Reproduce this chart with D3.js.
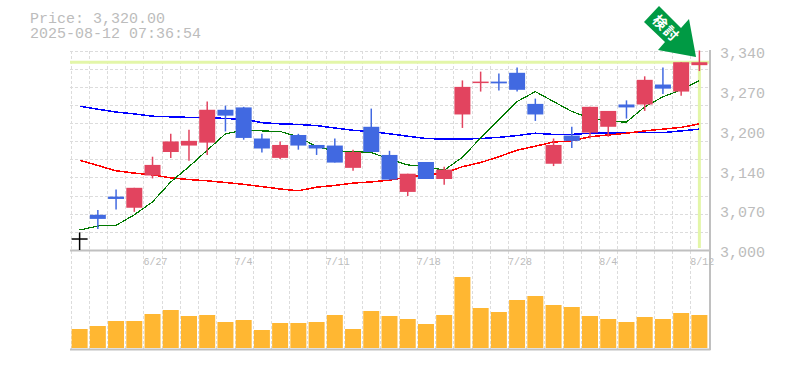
<!DOCTYPE html>
<html>
<head>
<meta charset="utf-8">
<script src="https://cdn.jsdelivr.net/npm/d3@7"></script>
<style>
body { margin: 0; background: #fff; }
svg { display: block; }
text { font-family: "Liberation Mono", monospace; fill: #bcbcbc; }
</style>
</head>
<body>
<div id="chart"></div>
<script>
const dates = ["6/23","6/24","6/25","6/26","6/27","6/30","7/1","7/2","7/3","7/4","7/7","7/8","7/9","7/10","7/11","7/14","7/15","7/16","7/17","7/18","7/22","7/23","7/24","7/25","7/28","7/29","7/30","7/31","8/1","8/4","8/5","8/6","8/7","8/8","8/12"];
const dateLabels = ["6/27","7/4","7/11","7/18","7/28","8/4","8/12"];
const opens = [3020,3060,3091,3072,3127,3167,3178,3183,3239,3243,3190,3157,3196,3179,3178,3140,3210,3162,3099,3150,3121,3231,3285,3287,3302,3249,3147,3195,3200,3210,3248,3248,3282,3270,3315];
const closes = [3020,3053,3087,3106,3145,3185,3186,3239,3229,3191,3173,3179,3178,3173,3149,3167,3167,3120,3130,3121,3137,3278,3287,3284,3273,3231,3179,3186,3244,3237,3243,3290,3275,3320,3320];
const highs = [3030,3068,3103,3106,3159,3198,3205,3253,3246,3244,3198,3185,3198,3179,3190,3171,3241,3169,3130,3150,3142,3289,3304,3301,3311,3258,3190,3210,3244,3237,3255,3296,3311,3320,3340];
const lows = [3000,3036,3069,3065,3122,3157,3152,3162,3202,3188,3166,3155,3171,3162,3149,3135,3167,3120,3092,3121,3111,3208,3270,3272,3270,3220,3143,3174,3190,3193,3224,3237,3266,3263,3305];
const maShort = [3034,3041,3042,3060,3082,3116,3142,3170,3198,3204,3203,3202,3193,3176,3169,3168,3166,3155,3145,3142,3136,3158,3191,3222,3253,3270,3253,3236,3225,3219,3218,3244,3261,3273,3289];
const maMid = [3153,3144,3135,3131,3128,3123,3120,3118,3115,3112,3108,3104,3101,3107,3110,3114,3116,3119,3124,3128,3131,3142,3149,3159,3170,3177,3184,3186,3193,3196,3199,3203,3206,3209,3215];
const maLong = [3245,3240,3235,3232,3228,3227,3226,3226,3224,3223,3217,3215,3214,3212,3208,3204,3202,3198,3194,3190,3189,3189,3190,3192,3195,3199,3197,3197,3199,3199,3200,3200,3200,3203,3206];
const volumes = [1900,2200,2700,2700,3400,3800,3200,3300,2600,2800,1800,2500,2500,2600,3300,1900,3700,3200,2900,2400,3300,7100,4000,3600,4800,5200,4300,4100,3200,2900,2600,3100,2900,3500,3300];
const priceTicks = [3000,3068,3136,3204,3272,3340];
const lastPrice = 3320;
const titleLines = ["Price: 3,320.00","2025-08-12 07:36:54"];
const arrowLabel = "検討";

const width = 785;
const height = 370;

const svg = d3.select("#chart")
    .append("svg")
    .attr("width", width)
    .attr("height", height);

const x = d3.scaleBand()
    .domain(dates)
    .range([70.5, 708.5]);
const y = d3.scaleLinear()
    .domain([3000, 3340])
    .range([250, 50.5]);
const yVol = d3.scaleLinear()
    .domain([0, 8000])
    .range([348, 268]);
const mid = function (d) {
    return x(d) + x.bandwidth() / 2;
};

// grid
const gridRows = d3.range(12).map(function (k) {
    return 3000 + k * 340 / 11;
});
svg.append("g").selectAll("line")
    .data(gridRows)
    .enter()
    .append("line")
    .attr("x1", 70)
    .attr("x2", 710)
    .attr("y1", function (d) { return Math.round(y(d)) + 0.5; })
    .attr("y2", function (d) { return Math.round(y(d)) + 0.5; })
    .attr("stroke", "#dcdcdc")
    .attr("stroke-dasharray", "3,2");
svg.append("g").selectAll("line")
    .data(dates)
    .enter()
    .append("line")
    .attr("x1", function (d) { return Math.round(x(d)) + 0.5; })
    .attr("x2", function (d) { return Math.round(x(d)) + 0.5; })
    .attr("y1", 51)
    .attr("y2", 350)
    .attr("stroke", "#dcdcdc")
    .attr("stroke-dasharray", "3,2");

// last price highlight
svg.append("line")
    .attr("x1", 70).attr("x2", 710)
    .attr("y1", y(lastPrice)).attr("y2", y(lastPrice))
    .attr("stroke", "#e3f6a8")
    .attr("stroke-width", 3);
svg.append("line")
    .attr("x1", mid(dates[34])).attr("x2", mid(dates[34]))
    .attr("y1", y(lastPrice)).attr("y2", 248)
    .attr("stroke", "#e3f6a8")
    .attr("stroke-width", 3);

// frame
svg.append("path")
    .attr("d", "M70,250.5H710M70,349.5H710.5M710,50V350")
    .attr("fill", "none")
    .attr("stroke", "#c0c0c0")
    .attr("stroke-width", 2);

// moving averages
const line = d3.line()
    .x(function (d, i) { return mid(dates[i]); })
    .y(function (d) { return y(d); });
[[maLong, "#0000ff", 1.5], [maMid, "#ff0000", 1.5], [maShort, "#007a00", 1.2]].forEach(function (s) {
    svg.append("path")
        .attr("d", line(s[0]))
        .attr("fill", "none")
        .attr("stroke", s[1])
        .attr("stroke-width", s[2])
        .attr("shape-rendering", "crispEdges");
});

// candles
const candleColor = function (i) {
    if (i === 0) {
        return "#000";
    }
    return closes[i] >= opens[i] ? "#e2445f" : "#4169e1";
};
const candles = svg.append("g").selectAll("g")
    .data(dates)
    .enter()
    .append("g");
candles.append("line")
    .attr("x1", function (d) { return mid(d); })
    .attr("x2", function (d) { return mid(d); })
    .attr("y1", function (d, i) { return y(highs[i]); })
    .attr("y2", function (d, i) { return y(lows[i]); })
    .attr("stroke", function (d, i) { return candleColor(i); })
    .attr("stroke-width", 1.5);
candles.append("rect")
    .attr("x", function (d) { return mid(d) - 8; })
    .attr("y", function (d, i) { return y(Math.max(opens[i], closes[i])); })
    .attr("width", 16)
    .attr("height", function (d, i) {
        return Math.max(1.5, Math.abs(y(opens[i]) - y(closes[i])));
    })
    .attr("fill", function (d, i) { return candleColor(i); });

// volume
svg.append("g").selectAll("rect")
    .data(volumes)
    .enter()
    .append("rect")
    .attr("x", function (d, i) { return mid(dates[i]) - 8; })
    .attr("y", function (d) { return yVol(d); })
    .attr("width", 16)
    .attr("height", function (d) { return yVol(0) - yVol(d); })
    .attr("fill", "#ffb732");

// axes
const yAxis = d3.axisRight(y)
    .tickValues(priceTicks)
    .tickSize(0)
    .tickFormat(function (d) { return d3.format(",")(Math.round(d / 10) * 10); });
const yAxisG = svg.append("g")
    .attr("transform", "translate(717, 2)")
    .call(yAxis);
yAxisG.select(".domain").remove();
yAxisG.selectAll("text").attr("font-size", 15).attr("x", 3)
    .style("font-family", '"Liberation Mono", monospace');

const xAxis = d3.axisBottom(x)
    .tickValues(dateLabels)
    .tickSize(0);
const xAxisG = svg.append("g")
    .attr("transform", "translate(" + (-x.bandwidth() / 2) + ", 257)")
    .call(xAxis);
xAxisG.select(".domain").remove();
xAxisG.selectAll("text")
    .attr("font-size", 10)
    .attr("text-anchor", "start")
    .attr("y", 0)
    .attr("dy", "0.8em")
    .style("font-family", '"Liberation Mono", monospace');

// title, one text element with two rows
const title = svg.append("text")
    .attr("font-size", 15);
title.selectAll("tspan")
    .data(titleLines)
    .enter()
    .append("tspan")
    .attr("x", 30)
    .attr("y", function (d, i) { return 23 + i * 15; })
    .text(function (d) { return d; });

// arrow
const arrow = svg.append("g");
arrow.append("path")
    .attr("d", "M659,6L644,22L665,42L658,50L696,57L689,19L681,28Z")
    .attr("fill", "#009a44");
arrow.append("text")
    .attr("transform", "translate(666,28.5) rotate(45)")
    .attr("text-anchor", "middle")
    .attr("font-size", 14)
    .attr("font-weight", "bold")
    .attr("letter-spacing", 1.5)
    .attr("dy", "0.35em")
    .style("fill", "#fff")
    .style("font-family", '"Noto Sans CJK JP"')
    .text(arrowLabel);
</script>
</body>
</html>
